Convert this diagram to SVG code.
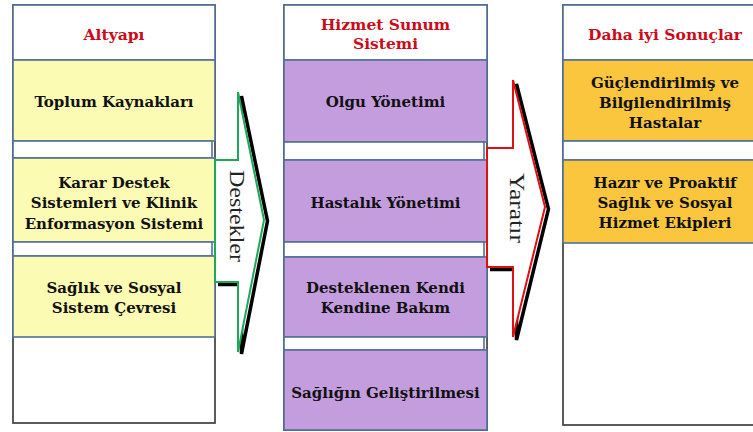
<svg xmlns="http://www.w3.org/2000/svg" width="753" height="432" viewBox="0 0 753 432">
<defs>
<style>
.frame{fill:#fff;stroke:#4a4a4a;stroke-width:1.8}
.hdr{fill:#fff;stroke:#52709a;stroke-width:1.6}
.gap{fill:#fff;stroke:#52709a;stroke-width:1.6}
.yel{fill:#fcfbb3;stroke:#52709a;stroke-width:1.6}
.pur{fill:#c49ddf;stroke:#52709a;stroke-width:1.6}
.org{fill:#f9c63e;stroke:#52709a;stroke-width:1.6}
text{font-family:"DejaVu Serif","Liberation Serif",serif;font-weight:bold;font-size:15px;text-anchor:middle;fill:#111}
text.h{fill:#cc0a1a;font-size:15.5px}
text.v{font-family:"Liberation Serif","DejaVu Serif",serif;font-weight:normal;font-size:21px;fill:#222}
.shadow{fill:none;stroke:#000;stroke-width:3.5;stroke-linejoin:miter}
.ag{fill:#fff;stroke:#1fa85a;stroke-width:2}
.ar{fill:#fff;stroke:#e01010;stroke-width:2}
</style>
</defs>
<rect width="753" height="432" fill="#fff"/>

<g id="col-altyapi">
<rect class="frame" x="13" y="5" width="202" height="418"/>
<rect class="hdr" x="13" y="5" width="202" height="55"/>
<text class="h" x="114" y="40">Altyapı</text>
</g>
<g id="toplum">
<rect class="yel" x="13" y="60" width="202" height="81"/>
<text x="114" y="107">Toplum Kaynakları</text>
</g>
<rect class="gap" x="13" y="141" width="199" height="17"/>
<g id="karar">
<rect class="yel" x="13" y="158" width="202" height="84"/>
<text x="114" y="188">Karar Destek</text>
<text x="114" y="208">Sistemleri ve Klinik</text>
<text x="114" y="229">Enformasyon Sistemi</text>
</g>
<rect class="gap" x="13" y="242" width="199" height="14"/>
<g id="saglik-cevre">
<rect class="yel" x="13" y="256" width="202" height="81"/>
<text x="114" y="293">Sağlık ve Sosyal</text>
<text x="114" y="313">Sistem Çevresi</text>
</g>

<g id="col-hizmet">
<rect class="frame" x="284" y="5" width="203" height="425"/>
<rect class="hdr" x="284" y="5" width="203" height="55"/>
<text class="h" x="385.5" y="30">Hizmet Sunum</text>
<text class="h" x="385.5" y="49">Sistemi</text>
</g>
<g id="olgu">
<rect class="pur" x="284" y="60" width="203" height="82"/>
<text x="385.5" y="107">Olgu Yönetimi</text>
</g>
<rect class="gap" x="284" y="142" width="200" height="18"/>
<g id="hastalik">
<rect class="pur" x="284" y="160" width="203" height="82"/>
<text x="385.5" y="208">Hastalık Yönetimi</text>
</g>
<rect class="gap" x="284" y="242" width="200" height="15"/>
<g id="kendi-bakim">
<rect class="pur" x="284" y="257" width="203" height="80"/>
<text x="385.5" y="293">Desteklenen Kendi</text>
<text x="385.5" y="313">Kendine Bakım</text>
</g>
<rect class="gap" x="284" y="337" width="200" height="13"/>
<g id="gelistirme">
<rect class="pur" x="284" y="350" width="203" height="80"/>
<text x="385.5" y="398">Sağlığın Geliştirilmesi</text>
</g>

<g id="col-sonuclar">
<rect class="frame" x="563" y="5" width="204" height="420"/>
<rect class="hdr" x="563" y="5" width="204" height="55"/>
<text class="h" x="665" y="40">Daha iyi Sonuçlar</text>
</g>
<g id="hastalar">
<rect class="org" x="563" y="60" width="204" height="81"/>
<text x="665" y="88">Güçlendirilmiş ve</text>
<text x="665" y="108">Bilgilendirilmiş</text>
<text x="665" y="128">Hastalar</text>
</g>
<rect class="gap" x="563" y="141" width="204" height="19"/>
<g id="ekipler">
<rect class="org" x="563" y="160" width="204" height="83"/>
<text x="665" y="188">Hazır ve Proaktif</text>
<text x="665" y="208">Sağlık ve Sosyal</text>
<text x="665" y="228">Hizmet Ekipleri</text>
</g>

<g id="connectors">
<g id="destekler">
<polyline class="shadow" points="218,162.5 241.5,162.5 241.5,96 267.5,221 241.5,354 241.5,284.5 218,284.5"/>
<polygon class="ag" points="215,160 238,160 238,92 264,220 238,352 238,282 215,282"/>
<text class="v" transform="translate(230 216) rotate(90)" x="0" y="0" textLength="92" lengthAdjust="spacingAndGlyphs">Destekler</text>
</g>
<g id="yaratir">
<polyline class="shadow" points="490,150.5 516.5,150.5 516.5,84 548.5,209 516.5,340 516.5,269.5 490,269.5"/>
<polygon class="ar" points="487,148 513,148 513,80 545,207 513,337 513,267 487,267"/>
<text class="v" transform="translate(510 208) rotate(90)" x="0" y="0" textLength="70" lengthAdjust="spacingAndGlyphs">Yaratır</text>
</g>
</g>
</svg>
